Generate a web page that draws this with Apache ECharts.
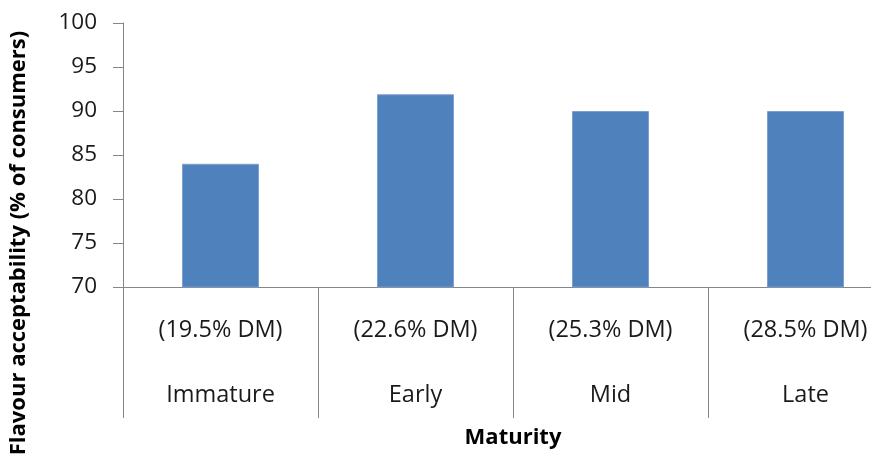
<!DOCTYPE html>
<html>
<head>
<meta charset="utf-8">
<script src="https://cdn.jsdelivr.net/npm/echarts@6/dist/echarts.min.js"></script>
<style>
  html, body { margin: 0; padding: 0; background: #fff; overflow: hidden; width: 871px; height: 455px; }
  #chart { width: 960px; height: 455px; }
</style>
</head>
<body>
<div id="chart"></div>
<script>
// Flavour acceptability by maturity stage
const categories = ['Immature', 'Early', 'Mid', 'Late'];
const dryMatter = ['(19.5% DM)', '(22.6% DM)', '(25.3% DM)', '(28.5% DM)'];
const acceptability = [84, 91.9, 90, 90];
const yTicks = { min: 70, max: 100, interval: 5 };

const FONT = '"Open Sans", sans-serif';
const AXIS_GREY = '#868686';

const chart = echarts.init(document.getElementById('chart'), null, { renderer: 'canvas' });

chart.setOption({
  animation: false,
  backgroundColor: '#ffffff',
  // the last category runs past the right edge of the visible page
  grid: { left: 123, width: 780, top: 23, bottom: 168, containLabel: false },
  xAxis: {
    type: 'category',
    data: categories,
    axisLine: { show: true, lineStyle: { color: AXIS_GREY, width: 1 } },
    axisTick: { show: true, alignWithLabel: false, length: 131, lineStyle: { color: AXIS_GREY, width: 1 } },
    axisLabel: {
      margin: 11,
      interval: 0,
      formatter: (name, idx) => '{dm|' + dryMatter[idx] + '}\n{nm|' + name + '}',
      rich: {
        dm: { fontFamily: FONT, fontSize: 23.5, color: '#1a1a1a', lineHeight: 65 },
        nm: { fontFamily: FONT, fontSize: 23.5, color: '#1a1a1a', lineHeight: 65 }
      }
    },
    splitLine: { show: false }
  },
  yAxis: {
    type: 'value',
    min: yTicks.min,
    max: yTicks.max,
    interval: yTicks.interval,
    axisLine: { show: true, lineStyle: { color: AXIS_GREY, width: 1 } },
    axisTick: { show: true, inside: false, length: 10, lineStyle: { color: AXIS_GREY, width: 1 } },
    axisLabel: { margin: 26, fontFamily: FONT, fontSize: 22.5, color: '#1a1a1a' },
    splitLine: { show: false }
  },
  series: [{
    type: 'bar',
    data: acceptability,
    barWidth: 77,
    itemStyle: { color: '#4f81bd', borderColor: '#7d9fcf', borderWidth: 1 }
  }],
  graphic: [
    {
      type: 'text',
      x: 513, y: 438,
      style: {
        text: 'Maturity', fontFamily: FONT, fontSize: 22, fontWeight: 'bold',
        fill: '#000', align: 'center', verticalAlign: 'middle'
      }
    },
    {
      type: 'text',
      x: 19, y: 243,
      rotation: Math.PI / 2,
      style: {
        text: 'Flavour acceptability (% of consumers)', fontFamily: FONT, fontSize: 22,
        fontWeight: 'bold', fill: '#000', align: 'center', verticalAlign: 'middle'
      }
    }
  ]
});
</script>
</body>
</html>
